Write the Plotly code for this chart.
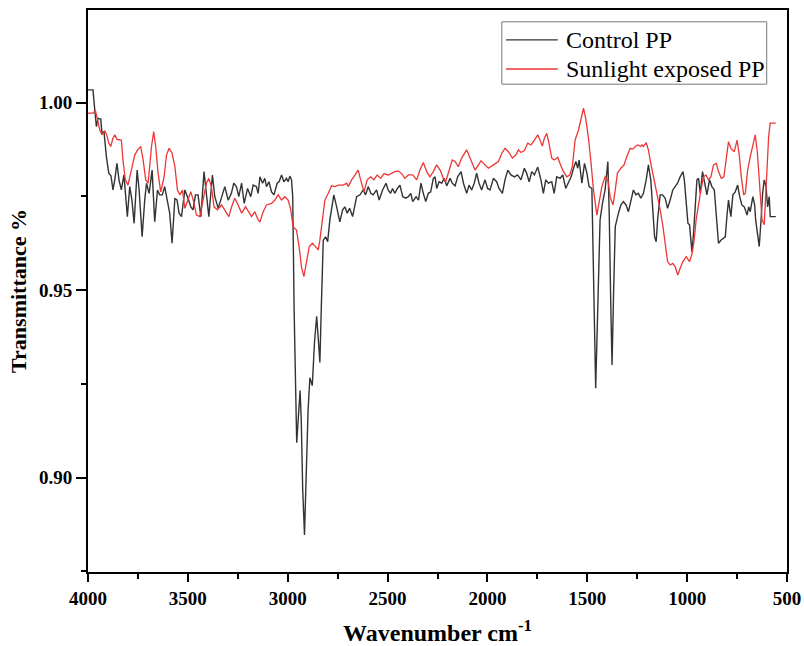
import plotly.graph_objects as go

# ---- data ----
wn_control = [4000, 3975, 3966, 3958, 3950, 3936, 3930, 3920, 3908, 3896, 3885, 3875, 3866, 3855, 3845, 3833, 3820, 3803, 3791, 3780, 3769, 3754, 3744, 3729, 3716, 3707, 3694, 3679, 3666, 3652, 3641, 3628, 3616, 3602, 3591, 3579, 3565, 3554, 3544, 3532, 3515, 3502, 3485, 3474, 3462, 3449, 3435, 3419, 3407, 3395, 3377, 3365, 3348, 3331, 3315, 3298, 3282, 3270, 3257, 3245, 3231, 3218, 3201, 3185, 3173, 3157, 3148, 3139, 3126, 3115, 3106, 3094, 3081, 3069, 3053, 3043, 3031, 3019, 3006, 2998, 2989, 2981, 2975, 2968, 2960, 2955, 2948, 2938, 2932, 2925, 2916, 2908, 2898, 2889, 2877, 2866, 2855, 2847, 2839, 2832, 2826, 2822, 2810, 2800, 2789, 2769, 2755, 2739, 2725, 2714, 2702, 2690, 2675, 2655, 2638, 2622, 2610, 2597, 2584, 2572, 2555, 2542, 2525, 2508, 2497, 2485, 2475, 2464, 2451, 2438, 2424, 2409, 2396, 2384, 2374, 2357, 2345, 2333, 2321, 2309, 2296, 2284, 2271, 2262, 2254, 2242, 2229, 2217, 2204, 2187, 2176, 2162, 2149, 2132, 2120, 2104, 2092, 2079, 2066, 2054, 2042, 2029, 2012, 1999, 1987, 1970, 1954, 1942, 1925, 1912, 1898, 1882, 1865, 1849, 1832, 1815, 1804, 1791, 1778, 1765, 1748, 1732, 1720, 1708, 1695, 1678, 1666, 1653, 1636, 1623, 1608, 1595, 1581, 1569, 1557, 1548, 1541, 1527, 1514, 1502, 1491, 1477, 1469, 1462, 1458, 1450, 1442, 1436, 1424, 1411, 1397, 1390, 1382, 1376, 1368, 1360, 1344, 1332, 1319, 1306, 1294, 1282, 1269, 1257, 1244, 1232, 1219, 1205, 1194, 1182, 1171, 1163, 1155, 1148, 1135, 1123, 1110, 1098, 1085, 1072, 1060, 1048, 1035, 1021, 1014, 1005, 996, 988, 976, 968, 960, 951, 943, 934, 923, 909, 901, 888, 876, 864, 854, 843, 831, 819, 809, 801, 793, 781, 771, 759, 747, 737, 726, 714, 700, 692, 684, 671, 662, 657, 639, 630, 622, 614, 605, 597, 589, 584, 567, 556]
t_control = [1.0034, 1.0034, 0.998, 0.9936, 0.9958, 0.9956, 0.9918, 0.9923, 0.9856, 0.9812, 0.9805, 0.9767, 0.9794, 0.9838, 0.9794, 0.9767, 0.9807, 0.9696, 0.9776, 0.974, 0.9678, 0.982, 0.9767, 0.9642, 0.974, 0.9785, 0.9758, 0.982, 0.9682, 0.9767, 0.9754, 0.9754, 0.9776, 0.974, 0.9705, 0.9625, 0.9745, 0.974, 0.9705, 0.9696, 0.9767, 0.9749, 0.9722, 0.9714, 0.9754, 0.9754, 0.9696, 0.9816, 0.9758, 0.9696, 0.9807, 0.9749, 0.9718, 0.9749, 0.9776, 0.974, 0.9758, 0.9785, 0.9776, 0.9749, 0.9785, 0.9731, 0.9771, 0.9749, 0.978, 0.9776, 0.9758, 0.9802, 0.9785, 0.9798, 0.9776, 0.9789, 0.9762, 0.9754, 0.9785, 0.9789, 0.9807, 0.9789, 0.9798, 0.9789, 0.9804, 0.9794, 0.975, 0.945, 0.918, 0.9093, 0.915, 0.9232, 0.915, 0.897, 0.8847, 0.9, 0.918, 0.9266, 0.9245, 0.936, 0.943, 0.937, 0.9307, 0.945, 0.958, 0.9633, 0.9642, 0.9629, 0.9687, 0.9754, 0.9722, 0.9682, 0.9714, 0.9722, 0.9705, 0.9718, 0.9696, 0.9749, 0.9754, 0.9767, 0.9754, 0.9776, 0.9758, 0.9754, 0.9767, 0.974, 0.9767, 0.9785, 0.9767, 0.9758, 0.9771, 0.9758, 0.9771, 0.978, 0.9749, 0.9745, 0.9749, 0.9758, 0.9736, 0.9749, 0.974, 0.9785, 0.9758, 0.9736, 0.9758, 0.9762, 0.9798, 0.9802, 0.9771, 0.9789, 0.9785, 0.9798, 0.9778, 0.9798, 0.9785, 0.9778, 0.9802, 0.9816, 0.9785, 0.9758, 0.978, 0.9767, 0.9785, 0.9812, 0.9785, 0.9767, 0.9794, 0.9771, 0.9767, 0.9798, 0.9789, 0.9771, 0.9758, 0.9794, 0.982, 0.9807, 0.9802, 0.9807, 0.9794, 0.9825, 0.9812, 0.9789, 0.9816, 0.9807, 0.9828, 0.9794, 0.9758, 0.9794, 0.9785, 0.9789, 0.9758, 0.9802, 0.9798, 0.9807, 0.9771, 0.9785, 0.9802, 0.9825, 0.9843, 0.9825, 0.9847, 0.9785, 0.9838, 0.9812, 0.9776, 0.9771, 0.955, 0.932, 0.9238, 0.94, 0.96, 0.9687, 0.9731, 0.9767, 0.9843, 0.97, 0.945, 0.93, 0.95, 0.9669, 0.9705, 0.9727, 0.9736, 0.9727, 0.9709, 0.974, 0.9767, 0.9754, 0.9758, 0.9745, 0.9758, 0.9794, 0.9834, 0.9794, 0.9705, 0.9642, 0.9629, 0.9687, 0.9754, 0.9754, 0.9745, 0.9718, 0.974, 0.9767, 0.9776, 0.9785, 0.9802, 0.9816, 0.9794, 0.9722, 0.9678, 0.9674, 0.9602, 0.9651, 0.9722, 0.9794, 0.9798, 0.9758, 0.9816, 0.9776, 0.9754, 0.9794, 0.9776, 0.9767, 0.9696, 0.9625, 0.9633, 0.9638, 0.9642, 0.9696, 0.974, 0.9696, 0.9754, 0.9762, 0.978, 0.9749, 0.9727, 0.9722, 0.97, 0.9722, 0.9709, 0.9749, 0.9727, 0.9687, 0.9616, 0.9687, 0.9758, 0.9794, 0.9776, 0.9722, 0.9749, 0.9696, 0.9696, 0.9696]

wn_sun = [4000, 3975, 3963, 3952, 3941, 3930, 3916, 3906, 3896, 3886, 3875, 3866, 3855, 3833, 3825, 3813, 3800, 3783, 3766, 3752, 3736, 3724, 3711, 3699, 3682, 3671, 3661, 3649, 3636, 3619, 3607, 3594, 3579, 3565, 3552, 3540, 3527, 3515, 3499, 3485, 3471, 3457, 3440, 3424, 3407, 3395, 3382, 3369, 3352, 3331, 3315, 3295, 3278, 3265, 3248, 3231, 3211, 3195, 3181, 3165, 3148, 3139, 3123, 3106, 3081, 3064, 3048, 3031, 3014, 2998, 2986, 2973, 2956, 2943, 2931, 2919, 2906, 2892, 2876, 2861, 2847, 2839, 2825, 2814, 2797, 2780, 2764, 2747, 2722, 2705, 2697, 2680, 2663, 2647, 2635, 2618, 2602, 2585, 2568, 2552, 2535, 2518, 2497, 2480, 2463, 2446, 2429, 2413, 2396, 2374, 2354, 2338, 2321, 2304, 2288, 2271, 2262, 2254, 2237, 2221, 2209, 2192, 2176, 2162, 2146, 2129, 2104, 2087, 2062, 2045, 2032, 2012, 1995, 1970, 1945, 1928, 1912, 1895, 1875, 1858, 1845, 1832, 1815, 1798, 1782, 1765, 1748, 1737, 1725, 1715, 1703, 1692, 1678, 1665, 1648, 1637, 1623, 1603, 1588, 1575, 1561, 1544, 1531, 1519, 1508, 1494, 1481, 1469, 1452, 1441, 1427, 1411, 1397, 1385, 1371, 1360, 1349, 1332, 1316, 1302, 1285, 1272, 1260, 1247, 1234, 1226, 1219, 1205, 1194, 1182, 1168, 1152, 1135, 1121, 1110, 1098, 1085, 1072, 1060, 1047, 1035, 1021, 1005, 988, 975, 965, 955, 943, 931, 918, 906, 893, 881, 868, 854, 843, 829, 816, 804, 793, 781, 764, 750, 739, 729, 717, 709, 697, 684, 671, 659, 648, 637, 625, 614, 604, 592, 584, 556]
t_sun = [0.9972, 0.9972, 0.9979, 0.995, 0.9927, 0.9914, 0.9925, 0.9914, 0.9892, 0.9883, 0.9905, 0.9914, 0.9902, 0.99, 0.9847, 0.9794, 0.978, 0.982, 0.986, 0.9874, 0.9883, 0.9847, 0.9794, 0.9785, 0.9883, 0.9923, 0.9883, 0.9812, 0.9762, 0.9802, 0.986, 0.9878, 0.9865, 0.9829, 0.9767, 0.9754, 0.9767, 0.9718, 0.974, 0.9762, 0.9736, 0.97, 0.9696, 0.974, 0.9785, 0.9798, 0.9776, 0.9722, 0.9714, 0.9727, 0.9714, 0.9696, 0.9727, 0.9745, 0.9727, 0.9705, 0.9722, 0.9709, 0.9696, 0.9709, 0.9687, 0.9682, 0.9709, 0.9727, 0.9731, 0.974, 0.9754, 0.974, 0.9749, 0.974, 0.9718, 0.9669, 0.966, 0.9616, 0.9562, 0.9536, 0.958, 0.9616, 0.9625, 0.9616, 0.9607, 0.9633, 0.9696, 0.974, 0.9758, 0.9778, 0.9776, 0.978, 0.978, 0.9785, 0.9776, 0.9794, 0.9807, 0.982, 0.9794, 0.9762, 0.9794, 0.9802, 0.9794, 0.9807, 0.9798, 0.981, 0.9807, 0.9812, 0.9816, 0.9818, 0.981, 0.9798, 0.9807, 0.9807, 0.9794, 0.982, 0.984, 0.9816, 0.9802, 0.9816, 0.9825, 0.9834, 0.982, 0.9798, 0.9789, 0.982, 0.9847, 0.9843, 0.9829, 0.9852, 0.9874, 0.9852, 0.982, 0.9834, 0.9845, 0.9834, 0.9825, 0.9834, 0.9843, 0.9865, 0.9878, 0.9869, 0.9852, 0.986, 0.9874, 0.9867, 0.9872, 0.9892, 0.9887, 0.99, 0.9914, 0.99, 0.9884, 0.9905, 0.9918, 0.9892, 0.9852, 0.9847, 0.9854, 0.9838, 0.982, 0.9802, 0.9807, 0.9829, 0.99, 0.9927, 0.9958, 0.9985, 0.9958, 0.9905, 0.9838, 0.9767, 0.97, 0.9731, 0.9776, 0.9802, 0.9794, 0.9747, 0.9727, 0.9767, 0.9812, 0.9825, 0.9834, 0.9856, 0.9878, 0.9876, 0.9883, 0.9887, 0.9883, 0.9887, 0.9883, 0.9893, 0.9874, 0.9838, 0.9802, 0.9767, 0.9714, 0.9669, 0.9616, 0.9576, 0.9567, 0.9571, 0.9562, 0.954, 0.9558, 0.9576, 0.9589, 0.9576, 0.9598, 0.9633, 0.9687, 0.9731, 0.9767, 0.9802, 0.9807, 0.9794, 0.9802, 0.9834, 0.9838, 0.9816, 0.9798, 0.9802, 0.9847, 0.9896, 0.9878, 0.9869, 0.99, 0.986, 0.9802, 0.9754, 0.9758, 0.982, 0.9856, 0.9883, 0.9914, 0.9865, 0.9785, 0.9687, 0.9674, 0.9794, 0.9909, 0.9945, 0.9945]

series_names = ["Control PP", "Sunlight exposed PP"]
series_colors = ["#333333", "#ee3636"]
x_ticks = [4000, 3500, 3000, 2500, 2000, 1500, 1000, 500]
y_ticks = [0.90, 0.95, 1.00]
y_tick_labels = ["0.90", "0.95", "1.00"]

SERIF = "Liberation Serif"

fig = go.Figure()
fig.add_trace(go.Scatter(x=wn_control, y=t_control, mode="lines", name=series_names[0],
                         line=dict(color=series_colors[0], width=1.4), showlegend=False))
fig.add_trace(go.Scatter(x=wn_sun, y=t_sun, mode="lines", name=series_names[1],
                         line=dict(color=series_colors[1], width=1.3), showlegend=False))

# legend box drawn in paper coordinates (framed, like the reference)
leg_x0, leg_x1, leg_y0, leg_y1 = 0.592, 0.971, 0.868, 0.979
line_x0, line_x1 = 0.598, 0.672
text_x = 0.681
row_y = [0.947, 0.895]
shapes = [dict(type="rect", xref="paper", yref="paper", x0=leg_x0, x1=leg_x1, y0=leg_y0, y1=leg_y1,
               line=dict(color="#777777", width=1), fillcolor="white", layer="above")]
annotations = []
for name, color, yy in zip(series_names, series_colors, row_y):
    shapes.append(dict(type="line", xref="paper", yref="paper", x0=line_x0, x1=line_x1, y0=yy, y1=yy,
                       line=dict(color=color, width=1.3), layer="above"))
    annotations.append(dict(xref="paper", yref="paper", x=text_x, y=yy, text=name, showarrow=False,
                            xanchor="left", yanchor="middle",
                            font=dict(family=SERIF, size=24, color="black")))

fig.update_layout(
    width=804, height=646,
    margin=dict(l=88, r=17, t=10, b=74),
    paper_bgcolor="white", plot_bgcolor="white",
    font=dict(family=SERIF, color="black"),
    shapes=shapes, annotations=annotations,
    xaxis=dict(range=[4000, 500], tickvals=x_ticks, ticks="outside", ticklen=8, tickwidth=2,
               tickcolor="black", showline=True, linecolor="black", linewidth=2, mirror=True,
               showgrid=False, zeroline=False, automargin=False,
               tickfont=dict(family=SERIF, size=19, color="black", weight="bold"),
               minor=dict(dtick=250, ticks="outside", ticklen=5, tickwidth=2, tickcolor="black", showgrid=False),
               title=dict(text="Wavenumber cm<sup>-1</sup>", standoff=20,
                          font=dict(family=SERIF, size=24, color="black", weight="bold"))),
    yaxis=dict(range=[0.8748, 1.0247], tickvals=y_ticks, ticktext=y_tick_labels, ticks="outside",
               ticklen=10, tickwidth=2, tickcolor="black", showline=True, linecolor="black",
               linewidth=2, mirror=True, showgrid=False, zeroline=False, automargin=False,
               tickfont=dict(family=SERIF, size=19, color="black", weight="bold"),
               minor=dict(tickvals=[0.875, 0.925, 0.975, 1.025], ticks="outside", ticklen=5,
                          tickwidth=2, tickcolor="black", showgrid=False),
               title=dict(text="Transmittance %", standoff=6,
                          font=dict(family=SERIF, size=22, color="black", weight="bold"))),
)

fig.write_html("out.html", config={"displayModeBar": False},
               post_script="document.body.style.margin='0';document.body.style.padding='0';")
